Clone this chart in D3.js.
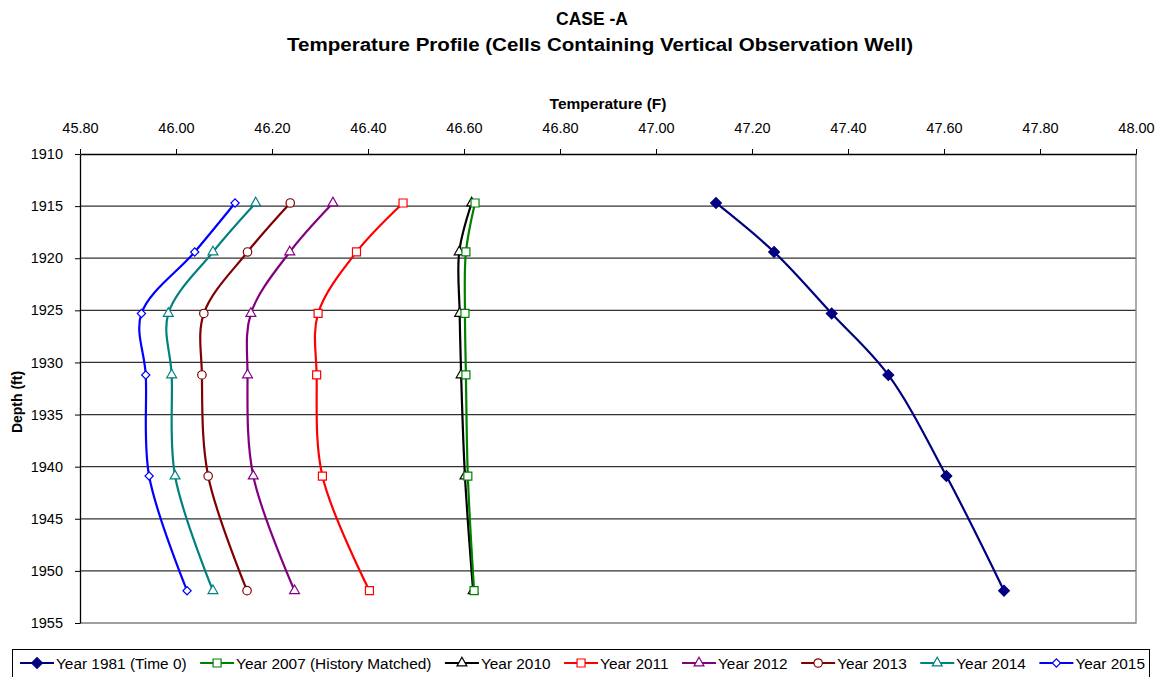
<!DOCTYPE html>
<html>
<head>
<meta charset="utf-8">
<script src="https://cdn.jsdelivr.net/npm/d3@7"></script>
<style>
    body { margin: 0; background: #fff; }
    svg { font-family: "Liberation Sans", Arial, sans-serif; }
    .axis path, .axis line { stroke: #000; }
    .axis text { font-size: 14.5px; fill: #000; }
</style>
</head>
<body>
<svg id="chart" width="1162" height="677"></svg>
<script>
// depth of each observation cell (ft)
var depths = [1914.7, 1919.4, 1925.3, 1931.2, 1940.9, 1951.9];

// temperature (F) per year, same order as depths
var t1981 = [47.125, 47.246, 47.366, 47.484, 47.605, 47.725];
var t2007 = [46.623, 46.604, 46.602, 46.604, 46.608, 46.621];
var t2010 = [46.616, 46.590, 46.591, 46.594, 46.602, 46.619];
var t2011 = [46.473, 46.376, 46.296, 46.293, 46.305, 46.403];
var t2012 = [46.327, 46.237, 46.156, 46.149, 46.161, 46.247];
var t2013 = [46.238, 46.149, 46.058, 46.054, 46.067, 46.148];
var t2014 = [46.166, 46.077, 45.984, 45.991, 45.998, 46.077];
var t2015 = [46.123, 46.039, 45.928, 45.937, 45.944, 46.023];

var seriesNames = ['Year 1981 (Time 0)', 'Year 2007 (History Matched)', 'Year 2010', 'Year 2011',
                   'Year 2012', 'Year 2013', 'Year 2014', 'Year 2015'];
var seriesValues = [t1981, t2007, t2010, t2011, t2012, t2013, t2014, t2015];

var xTicks = [45.8, 46.0, 46.2, 46.4, 46.6, 46.8, 47.0, 47.2, 47.4, 47.6, 47.8, 48.0];
var yTicks = [1910, 1915, 1920, 1925, 1930, 1935, 1940, 1945, 1950, 1955];

// look of each series
var colors = ['#000080', '#008000', '#000000', '#ff0000', '#800080', '#800000', '#008080', '#0000ff'];
var markers = ['diamondFill', 'square', 'triangle', 'square', 'triangle', 'circle', 'triangle', 'diamond'];

var svg = d3.select('#chart');

// plot area edges (window.top is taken, so prefixed names)
var plotLeft = 80, plotRight = 1136, plotTop = 154, plotBottom = 623;

var x = d3.scaleLinear().domain([45.8, 48.0]).range([plotLeft, plotRight]);
var y = d3.scaleLinear().domain([1910, 1955]).range([plotTop, plotBottom]);

// titles
svg.append('text')
    .attr('x', 592).attr('y', 25)
    .attr('text-anchor', 'middle')
    .style('font-size', '17.5px').style('font-weight', 'bold')
    .text('CASE -A');
svg.append('text')
    .attr('x', 600).attr('y', 51)
    .attr('text-anchor', 'middle')
    .attr('textLength', 626)
    .attr('lengthAdjust', 'spacingAndGlyphs')
    .style('font-size', '18px').style('font-weight', 'bold')
    .text('Temperature Profile (Cells Containing Vertical Observation Well)');
svg.append('text')
    .attr('x', 608).attr('y', 109)
    .attr('text-anchor', 'middle')
    .style('font-size', '15.5px').style('font-weight', 'bold')
    .text('Temperature (F)');
svg.append('text')
    .attr('transform', 'translate(22, 402) rotate(-90)')
    .attr('text-anchor', 'middle')
    .style('font-size', '14px').style('font-weight', 'bold')
    .text('Depth (ft)');

// horizontal grid
svg.append('g')
    .selectAll('line')
    .data(yTicks.slice(1, -1))
    .enter()
    .append('line')
    .attr('x1', plotLeft).attr('x2', plotRight)
    .attr('y1', function(d){ return y(d); })
    .attr('y2', function(d){ return y(d); })
    .attr('stroke', '#333')
    .attr('stroke-width', 1.2);

// plot border right / bottom (gray)
svg.append('path')
    .attr('d', `M${plotLeft},${plotBottom}H${plotRight}V${plotTop}`)
    .attr('fill', 'none')
    .attr('stroke', '#808080')
    .attr('stroke-width', 1.3);

// axes
svg.append('g')
    .attr('class', 'axis')
    .attr('transform', `translate(0, ${plotTop})`)
    .call(d3.axisTop(x).tickValues(xTicks).tickFormat(d3.format('.2f'))
        .tickSizeInner(5).tickSizeOuter(0).tickPadding(16));

svg.append('g')
    .attr('class', 'axis')
    .attr('transform', `translate(${plotLeft}, 0)`)
    .call(d3.axisLeft(y).tickValues(yTicks).tickFormat(d3.format('d'))
        .tickSizeInner(5).tickSizeOuter(0).tickPadding(12));

svg.selectAll('.axis .domain').attr('stroke-width', 1.3);

// series lines
var line = d3.line()
    .x(function(d){ return x(d[0]); })
    .y(function(d){ return y(d[1]); })
    .curve(d3.curveCatmullRom.alpha(0.5));

function markerPath(kind) {
    if (kind === 'square') return d3.symbol(d3.symbolSquare, 64)();
    if (kind === 'circle') return d3.symbol(d3.symbolCircle, 56)();
    if (kind === 'triangle') return d3.symbol(d3.symbolTriangle, 42)();
    if (kind === 'diamondFill') return d3.symbol(d3.symbolSquare, 58)();
    return d3.symbol(d3.symbolSquare, 34)();
}

function drawMarker(g, kind, color, cx, cy) {
    var rot = (kind === 'diamond' || kind === 'diamondFill') ? ' rotate(45)' : '';
    g.append('path')
        .attr('d', markerPath(kind))
        .attr('transform', `translate(${cx}, ${cy})${rot}`)
        .attr('fill', kind === 'diamondFill' ? color : '#fff')
        .attr('stroke', color)
        .attr('stroke-width', 1.2);
}

// draw in reverse so 1981 / 2007 sit on top like the original
for (var i = seriesValues.length - 1; i >= 0; i--) {
    var pts = seriesValues[i].map(function(v, j){ return [v, depths[j]]; });
    var g = svg.append('g');
    g.append('path')
        .datum(pts)
        .attr('d', line)
        .attr('fill', 'none')
        .attr('stroke', colors[i])
        .attr('stroke-width', 2.2);
    pts.forEach(function(p){ drawMarker(g, markers[i], colors[i], x(p[0]), y(p[1])); });
}

// legend
var legY = 663;
svg.append('rect')
    .attr('x', 12.5).attr('y', 649.5)
    .attr('width', 1137).attr('height', 40)
    .attr('fill', '#fff').attr('stroke', '#000');

var legend = svg.append('g');
var items = legend.selectAll('g')
    .data(seriesNames)
    .enter()
    .append('g');

items.append('text')
    .attr('y', legY + 5.5)
    .style('font-size', '15.4px')
    .text(function(d){ return d; });

var sampleW = 34, sampleGap = 2;
var widths = [];
items.select('text').each(function(){ widths.push(this.getComputedTextLength()); });
var used = d3.sum(widths) + seriesNames.length * (sampleW + sampleGap);
var gap = (1145 - 20 - used) / (seriesNames.length - 1);

var cur = 20;
items.each(function(d, i){
    var it = d3.select(this);
    it.append('line')
        .attr('x1', cur).attr('x2', cur + sampleW)
        .attr('y1', legY).attr('y2', legY)
        .attr('stroke', colors[i]).attr('stroke-width', 2.2);
    drawMarker(it, markers[i], colors[i], cur + sampleW / 2, legY);
    it.select('text').attr('x', cur + sampleW + sampleGap);
    cur += sampleW + sampleGap + widths[i] + gap;
});
</script>
</body>
</html>
